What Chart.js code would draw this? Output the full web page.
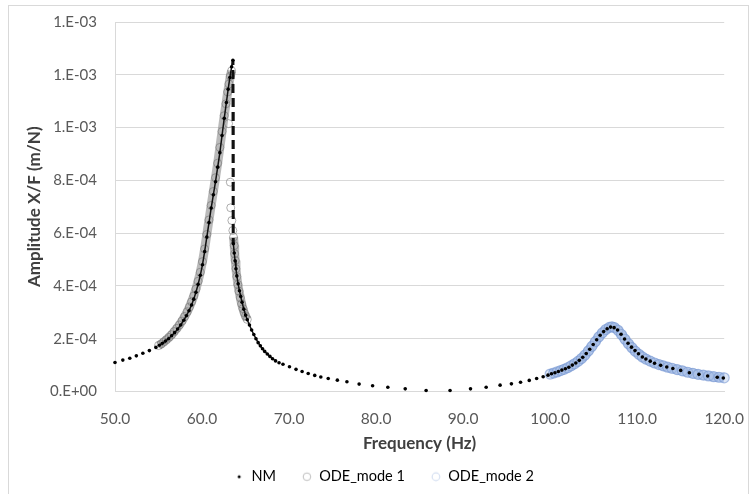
<!DOCTYPE html>
<html lang="en">
<head>
<meta charset="UTF-8">
<title>Amplitude vs Frequency</title>
<script src="https://cdn.jsdelivr.net/npm/chart.js@4"></script>
<style>
  html, body { margin: 0; padding: 0; background: #fff; }
  #frame { position: absolute; left: 8px; top: 5px; width: 741px; height: 490px; border: 1px solid #d9d9d9; box-sizing: border-box; }
  #chart { position: absolute; left: 0; top: 0; }
</style>
</head>
<body>
<div id="frame"></div>
<canvas id="chart" width="754" height="494"></canvas>
<script>
// amplitudes are in units of 1e-4 m/N
const AMP_UNIT = 1e-4;

const nmFreq = [
  50.0, 50.9, 51.7, 52.45, 53.2, 53.95, 54.7,
  55.1, 55.45, 55.8, 56.15, 56.5, 56.85, 57.2, 57.55, 57.9, 58.2, 58.5, 58.8, 59.05, 59.3, 59.55, 59.8,
  60.05, 60.3, 60.55, 60.8, 61.05, 61.3, 61.55, 61.8, 62.05, 62.3, 62.55, 62.8, 63.0, 63.2, 63.4, 63.55,
  63.56, 63.57, 63.58, 63.59, 63.6,
  63.7, 63.8, 63.9, 64.0, 64.15, 64.3, 64.45, 64.6, 64.8, 65.0, 65.2, 65.45, 65.7, 65.95, 66.2, 66.45,
  66.7, 66.95, 67.2, 67.5, 67.8, 68.1, 68.45, 68.85, 69.3,
  70.05, 70.8, 71.5, 72.2, 72.95, 73.65, 74.5, 75.55, 76.65, 78.05, 79.6, 81.35, 83.35, 85.75, 88.5,
  90.85, 92.65, 94.25, 95.55, 96.6, 97.6, 98.45, 99.2, 99.75,
  100.15, 100.55, 100.95, 101.35, 101.75, 102.15, 102.55, 102.95, 103.35, 103.75, 104.15, 104.55,
  104.95, 105.35, 105.75, 106.15, 106.55, 106.95, 107.35, 107.75, 108.15, 108.55, 108.95, 109.35,
  109.75, 110.15, 110.6, 111.0, 111.5, 112.0, 112.7, 113.4, 114.1, 115.0, 116.0, 117.1, 118.1, 119.2, 119.9
];
const nmAmp = [
  1.10, 1.19, 1.26, 1.35, 1.45, 1.55, 1.67,
  1.75, 1.83, 1.91, 2.00, 2.11, 2.23, 2.37, 2.52, 2.70, 2.87, 3.06, 3.28, 3.50, 3.76, 4.06, 4.40,
  4.80, 5.30, 5.85, 6.40, 6.95, 7.45, 7.95, 8.50, 9.05, 9.70, 10.35, 10.95, 11.45, 11.90, 12.30, 12.55,
  11.20, 9.60, 8.00, 6.60, 5.60,
  5.25, 4.95, 4.65, 4.38, 4.08, 3.82, 3.60, 3.38, 3.12, 2.90, 2.72, 2.52, 2.33, 2.16, 2.00, 1.85,
  1.73, 1.62, 1.52, 1.42, 1.33, 1.24, 1.16, 1.09, 1.03,
  0.94, 0.84, 0.76, 0.68, 0.61, 0.55, 0.49, 0.43, 0.37, 0.28, 0.22, 0.16, 0.10, 0.04, 0.04,
  0.10, 0.16, 0.24, 0.29, 0.35, 0.42, 0.49, 0.56, 0.62,
  0.67, 0.71, 0.76, 0.81, 0.86, 0.92, 1.00, 1.08, 1.18, 1.30, 1.44, 1.60,
  1.78, 1.96, 2.13, 2.27, 2.38, 2.44, 2.42, 2.33, 2.17, 1.99, 1.83, 1.68,
  1.55, 1.43, 1.31, 1.23, 1.15, 1.07, 0.99, 0.93, 0.87, 0.80, 0.71, 0.65, 0.59, 0.54, 0.51
];

const ode1Freq = [
  55.0, 55.3, 55.6, 55.9, 56.2, 56.5, 56.8, 57.1, 57.4, 57.7, 58.0, 58.3, 58.55, 58.8, 59.05, 59.3,
  59.55, 59.8, 60.05, 60.3, 60.55, 60.8, 61.05, 61.3, 61.55, 61.8, 62.05, 62.3, 62.55, 62.75, 62.95,
  63.1, 63.25, 63.4,
  63.2, 63.05, 63.15, 63.25, 63.28, 63.3, 63.38, 63.43, 63.5, 63.54, 63.58,
  63.62, 63.7, 63.75, 63.82, 63.9, 64.0, 64.12, 64.25, 64.4, 64.55, 64.7, 64.85, 65.0, 65.2
];
const ode1Amp = [
  1.74, 1.80, 1.88, 1.96, 2.05, 2.15, 2.27, 2.39, 2.52, 2.67, 2.84, 3.02, 3.20, 3.40, 3.62, 3.88,
  4.18, 4.52, 4.92, 5.40, 5.95, 6.50, 7.05, 7.58, 8.10, 8.65, 9.25, 9.85, 10.45, 10.90, 11.35,
  11.65, 11.95, 12.15,
  null, 10.15, null, 7.93, null, 6.96, null, 6.48, null, 6.10, null,
  5.85, 5.53, 5.22, 4.96, 4.65, 4.35, 4.05, 3.80, 3.55, 3.32, 3.14, 2.98, 2.86, 2.73
];

const ode2Freq = [
  100.0, 100.4, 100.8, 101.2, 101.6, 102.0, 102.4, 102.8, 103.2, 103.6, 104.0, 104.4, 104.8, 105.2,
  105.6, 106.0, 106.4, 106.8, 107.1, 107.4, 107.8, 108.2, 108.6, 109.0, 109.4, 109.8, 110.2, 110.6,
  111.0, 111.5, 112.0, 112.5, 113.0, 113.5, 114.0, 114.6, 115.2, 115.8, 116.4, 117.0, 117.6, 118.2,
  118.8, 119.4, 120.0
];
const ode2Amp = [
  0.66, 0.70, 0.74, 0.79, 0.84, 0.90, 0.97, 1.05, 1.14, 1.25, 1.38, 1.54, 1.71, 1.89,
  2.07, 2.22, 2.35, 2.43, 2.45, 2.42, 2.32, 2.16, 1.98, 1.81, 1.66, 1.52, 1.41, 1.31,
  1.23, 1.15, 1.08, 1.02, 0.97, 0.92, 0.88, 0.83, 0.78, 0.73, 0.69, 0.65, 0.62, 0.59,
  0.56, 0.54, 0.52
];

const seriesNames = ['NM', 'ODE_mode 1', 'ODE_mode 2'];
const xTitle = 'Frequency (Hz)';
const yTitle = 'Amplitude X/F (m/N)';

const toPts = (xs, ys) => xs.map((x, i) => ({ x, y: ys[i] === null ? null : ys[i] * AMP_UNIT }));

// Excel-like "0.E+00" tick format
function sciLabel(v) {
  const [m, e] = v.toExponential(0).split('e');
  const n = parseInt(e, 10);
  return m + '.E' + (n < 0 ? '-' : '+') + String(Math.abs(n)).padStart(2, '0');
}

// small legend markers
function marker(r, fill, stroke, lw) {
  const c = document.createElement('canvas');
  c.width = 12; c.height = 12;
  const g = c.getContext('2d');
  g.beginPath();
  g.arc(6, 6, r, 0, Math.PI * 2);
  if (fill) { g.fillStyle = fill; g.fill(); }
  if (stroke) { g.lineWidth = lw; g.strokeStyle = stroke; g.stroke(); }
  return c;
}
const legendMarkers = [
  marker(1.5, '#000', null, 0),
  marker(3.8, null, '#bfbfbf', 1),
  marker(3.8, null, '#d6e0f2', 1.2)
];

// dashed look for the near-vertical jump of the NM curve
const dashPattern = (() => {
  const c = document.createElement('canvas');
  c.width = 4; c.height = 14;
  const g = c.getContext('2d');
  g.fillStyle = '#111';
  g.fillRect(0, 0, 4, 9);
  return g.createPattern(c, 'repeat');
})();

const font = 'Lato, "Open Sans", sans-serif';

// shift the legend a bit right so it sits under the chart like the original
const legendShift = {
  id: 'legendShift',
  afterLayout(chart) {
    chart.legend.left += 18;
    chart.legend.right += 18;
  }
};

const isJump = c => Math.abs(c.p1.x - c.p0.x) < 0.5;
const isDense = c => Math.abs(c.p1.x - c.p0.x) < 3.3;

new Chart(document.getElementById('chart'), {
  type: 'scatter',
  data: {
    datasets: [
      {
        label: seriesNames[0],
        data: toPts(nmFreq, nmAmp),
        showLine: true,
        borderWidth: 1.5,
        borderColor: '#111',
        segment: {
          borderColor: c => isJump(c) ? dashPattern : (isDense(c) ? '#111' : 'rgba(0,0,0,0)'),
          borderWidth: c => isJump(c) ? 3 : 1.5
        },
        pointRadius: c => {
          const f = nmFreq[c.dataIndex];
          return (f > 63.555 && f < 63.6) ? 0 : 1.8;
        },
        pointBorderWidth: 0,
        pointBackgroundColor: '#000',
        clip: false
      },
      {
        label: seriesNames[1],
        data: toPts(ode1Freq, ode1Amp),
        showLine: true,
        spanGaps: false,
        borderWidth: 9,
        borderColor: 'rgba(140,140,140,0.6)',
        pointRadius: 4,
        pointBorderWidth: 1,
        pointBorderColor: 'rgba(110,110,110,0.55)',
        pointBackgroundColor: 'rgba(255,255,255,0)',
        clip: false
      },
      {
        label: seriesNames[2],
        data: toPts(ode2Freq, ode2Amp),
        showLine: true,
        borderWidth: 10,
        borderColor: 'rgba(160,185,228,0.8)',
        pointRadius: 5,
        pointBorderWidth: 1.2,
        pointBorderColor: 'rgba(120,152,210,0.6)',
        pointBackgroundColor: 'rgba(170,192,230,0.4)',
        clip: false
      }
    ]
  },
  options: {
    responsive: false,
    animation: false,
    devicePixelRatio: 1,
    layout: { padding: { left: 0, right: 22, top: 22, bottom: 0 } },
    scales: {
      x: {
        type: 'linear',
        min: 50, max: 120,
        afterFit: s => { s.height = 52; },
        grid: { display: false },
        border: { display: true, color: '#d9d9d9', width: 1 },
        ticks: {
          stepSize: 10, padding: 10,
          color: '#595959', font: { family: font, size: 15.5 },
          callback: v => v.toFixed(1)
        },
        title: {
          display: true, text: xTitle, color: '#404040',
          font: { family: font, size: 17, weight: 'bold' },
          padding: { top: 0, bottom: -10.2 }
        }
      },
      y: {
        min: 0, max: 1.4e-3,
        afterFit: s => { s.width = 115; s.paddingTop = 0; s.paddingBottom = 0; },
        grid: { color: '#d9d9d9', lineWidth: 1, drawTicks: false },
        border: { display: true, color: '#d9d9d9', width: 1 },
        ticks: {
          stepSize: 2e-4, padding: 18,
          color: '#595959', font: { family: font, size: 15 },
          callback: v => sciLabel(v)
        },
        title: {
          display: true, text: yTitle, color: '#404040',
          font: { family: font, size: 17, weight: 'bold' },
          padding: { top: 24.8, bottom: 0 }
        }
      }
    },
    plugins: {
      tooltip: { enabled: false },
      legend: {
        position: 'bottom',
        labels: {
          usePointStyle: true,
          boxWidth: 10, boxHeight: 10,
          padding: 26,
          color: '#595959',
          font: { family: font, size: 14.5 },
          generateLabels: chart => chart.data.datasets.map((ds, i) => ({
            text: ds.label,
            pointStyle: legendMarkers[i],
            fillStyle: 'rgba(0,0,0,0)',
            strokeStyle: 'rgba(0,0,0,0)',
            lineWidth: 0,
            hidden: false,
            datasetIndex: i
          }))
        }
      }
    }
  },
  plugins: [legendShift]
});
</script>
</body>
</html>
